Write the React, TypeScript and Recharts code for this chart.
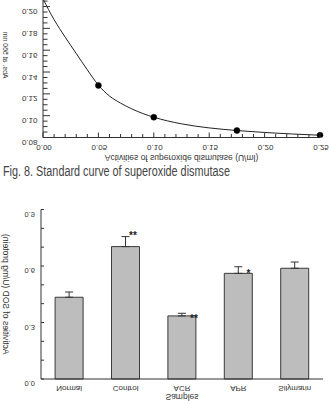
import React from 'react';
import {
  ComposedChart,
  BarChart,
  Bar,
  Line,
  XAxis,
  YAxis,
  ErrorBar,
  ReferenceDot,
  Label,
} from 'recharts';

// standard curve (upper figure)
const curveActivity = [0, 0.01, 0.02, 0.03, 0.04, 0.05, 0.06, 0.07, 0.08, 0.09, 0.1, 0.125, 0.15, 0.175, 0.2, 0.225, 0.25];
const curveAbs = [0.207, 0.188, 0.172, 0.157, 0.142, 0.128, 0.118, 0.1115, 0.1063, 0.102, 0.0986, 0.0925, 0.0888, 0.0864, 0.0846, 0.0832, 0.0821];
const measuredActivity = [0.05, 0.1, 0.175, 0.25];
const measuredAbs = [0.1277, 0.0986, 0.0864, 0.0821];
const curveXTicks = [0, 0.01, 0.02, 0.03, 0.04, 0.05, 0.06, 0.07, 0.08, 0.09, 0.1, 0.11, 0.12, 0.13, 0.14, 0.15, 0.16, 0.17, 0.18, 0.19, 0.2, 0.21, 0.22, 0.23, 0.24, 0.25];
const curveYTicks = [0.08, 0.085, 0.09, 0.095, 0.1, 0.105, 0.11, 0.115, 0.12, 0.125, 0.13, 0.135, 0.14, 0.145, 0.15, 0.155, 0.16, 0.165, 0.17, 0.175, 0.18, 0.185, 0.19, 0.195, 0.2, 0.205];

// SOD activity per group (lower figure)
const groups = ['Normal', 'Control', 'ACR', 'APR', 'Silymarin'];
const sodMeans = [0.434, 0.703, 0.335, 0.561, 0.588];
const sodErrors = [0.028, 0.053, 0.014, 0.035, 0.033];
const barYTicks = [0, 0.1, 0.2, 0.3, 0.4, 0.5, 0.6, 0.7, 0.8, 0.9];
const starGroups = ['Control', 'ACR', 'APR'];
const starValues = [0.762, 0.326, 0.562];
const starMarks = ['**', '**', '*'];

const FONT = '"Liberation Sans", Arial, sans-serif';
const INK = '#333';

// text in the scan is mirrored top-to-bottom, so every label is drawn flipped
function FlipText({ x, y, size, anchor = 'middle', rotate = false, children }: any) {
  const t = rotate
    ? `translate(${x},${y}) rotate(-90) scale(1,-1)`
    : `translate(${x},${y}) scale(1,-1)`;
  return (
    <text transform={t} x={0} y={0} fontSize={size} textAnchor={anchor} fill={INK} fontFamily={FONT}>
      {children}
    </text>
  );
}

const isMult = (v: number, step: number) => Math.abs(v / step - Math.round(v / step)) < 1e-6;

const CurveXTick = ({ x, y, payload }: any) => {
  const major = isMult(payload.value, 0.05);
  return (
    <g>
      <line x1={x} x2={x} y1={y} y2={y - (major ? 5 : 3.5)} stroke={INK} />
      {major && <FlipText x={x + 1} y={y + 7} size={8}>{payload.value.toFixed(2)}</FlipText>}
    </g>
  );
};

const CurveYTick = ({ x, y, payload }: any) => {
  const major = isMult(payload.value, 0.02);
  return (
    <g>
      <line x1={x} x2={x + (major ? 7 : 4.5)} y1={y} y2={y} stroke={INK} />
      {major && <FlipText x={x - 5.5} y={y + 2.5} size={8} anchor="end">{payload.value.toFixed(2)}</FlipText>}
    </g>
  );
};

const BarYTick = ({ x, y, payload }: any) => {
  const major = isMult(payload.value, 0.3);
  return (
    <g>
      <line x1={x} x2={x + 3} y1={y} y2={y} stroke={INK} />
      {major && <FlipText x={x - 6} y={y + 2} size={7.5} anchor="end">{payload.value.toFixed(1)}</FlipText>}
    </g>
  );
};

const BarXTick = ({ x, y, payload }: any) => (
  <FlipText x={x} y={y + 7} size={8}>{payload.value}</FlipText>
);

const starShift: Record<string, number> = { Control: 3.5, ACR: 8, APR: 8 };

export default function App() {
  const curveData = curveActivity.map((x, i) => ({ x, y: curveAbs[i] }));
  const measuredData = measuredActivity.map((x, i) => ({ x, y: measuredAbs[i] }));
  const barData = groups.map((name, i) => ({ name, sod: sodMeans[i], err: [0, sodErrors[i]] }));

  return (
    <div style={{ position: 'absolute', left: 0, top: 0, width: 329, height: 401, background: '#fff' }}>
      <div style={{ position: 'absolute', left: 0, top: 0 }}>
        <ComposedChart width={329} height={170} margin={{ top: 0, right: 9, bottom: 0, left: 0 }}>
          <XAxis
            type="number"
            dataKey="x"
            domain={[0, 0.25]}
            ticks={curveXTicks}
            interval={0}
            height={32.5}
            tickSize={0}
            tickMargin={0}
            tickLine={false}
            axisLine={{ stroke: INK }}
            tick={CurveXTick}
          >
            <Label
              content={({ viewBox }: any) => (
                <FlipText x={viewBox.x + viewBox.width / 2} y={viewBox.y + 17} size={8.5}>
                  Activities of superoxide dismutase (U/ml)
                </FlipText>
              )}
            />
          </XAxis>
          <YAxis
            type="number"
            dataKey="y"
            domain={[0.08, 0.206]}
            allowDataOverflow
            ticks={curveYTicks}
            interval={0}
            width={43}
            tickSize={0}
            tickMargin={0}
            tickLine={false}
            axisLine={{ stroke: INK }}
            tick={CurveYTick}
          >
            <Label
              content={({ viewBox }: any) => (
                <FlipText x={3} y={viewBox.y + 55} size={7} rotate>
                  Abs. at 560 nm
                </FlipText>
              )}
            />
          </YAxis>
          <YAxis yAxisId="r" orientation="right" width={0} tick={false} tickLine={false} axisLine={{ stroke: '#777', strokeWidth: 1.5 }} />
          <Line data={curveData} dataKey="y" type="monotone" stroke="#222" strokeWidth={1} dot={false} isAnimationActive={false} />
          <Line
            data={measuredData}
            dataKey="y"
            stroke="none"
            dot={{ r: 3, fill: '#000', stroke: '#000', strokeWidth: 0.5 }}
            isAnimationActive={false}
          />
        </ComposedChart>
      </div>

      <svg style={{ position: 'absolute', left: 0, top: 160 }} width={329} height={22}>
        <text x={3} y={15.5} fontSize={14} fill="#444" fontFamily={FONT} textLength={227} lengthAdjust="spacingAndGlyphs">
          Fig. 8. Standard curve of superoxide dismutase
        </text>
      </svg>

      <div style={{ position: 'absolute', left: 0, top: 185 }}>
        <BarChart width={329} height={216} data={barData} margin={{ top: 24.5, right: 6, bottom: 0, left: 0 }} barCategoryGap="25%">
          <XAxis
            dataKey="name"
            height={22}
            tickSize={0}
            tickMargin={0}
            tickLine={false}
            axisLine={{ stroke: INK }}
            tick={BarXTick}
            interval={0}
          >
            <Label
              content={({ viewBox }: any) => (
                <FlipText x={viewBox.x + viewBox.width / 2} y={viewBox.y + 15} size={8.5}>
                  Samples
                </FlipText>
              )}
            />
          </XAxis>
          <XAxis xAxisId="top" dataKey="name" orientation="top" height={0} tick={false} tickLine={false} axisLine={{ stroke: INK }} />
          <YAxis
            domain={[0, 0.9]}
            ticks={barYTicks}
            interval={0}
            width={41}
            tickSize={0}
            tickMargin={0}
            tickLine={false}
            axisLine={{ stroke: INK }}
            tick={BarYTick}
          >
            <Label
              content={({ viewBox }: any) => (
                <FlipText x={3} y={viewBox.y + viewBox.height / 2} size={8.5} rotate>
                  Activities of SOD (U/mg protein)
                </FlipText>
              )}
            />
          </YAxis>
          <YAxis yAxisId="right" orientation="right" width={0} domain={[0, 0.9]} tick={false} tickLine={false} axisLine={{ stroke: INK }} />
          <Bar dataKey="sod" fill="#bdbdbd" stroke="#3a3a3a" strokeWidth={1} isAnimationActive={false}>
            <ErrorBar dataKey="err" direction="y" width={4} stroke={INK} strokeWidth={1} />
          </Bar>
          {starGroups.map((g, i) => (
            <ReferenceDot
              key={g}
              x={g}
              y={starValues[i]}
              r={0}
              ifOverflow="visible"
              shape={(p: any) => (
                <text
                  x={p.cx + starShift[g]}
                  y={p.cy + 4}
                  fontSize={10}
                  fontWeight="bold"
                  fill="#222"
                  fontFamily={FONT}
                >
                  {starMarks[i]}
                </text>
              )}
            />
          ))}
        </BarChart>
      </div>
    </div>
  );
}
